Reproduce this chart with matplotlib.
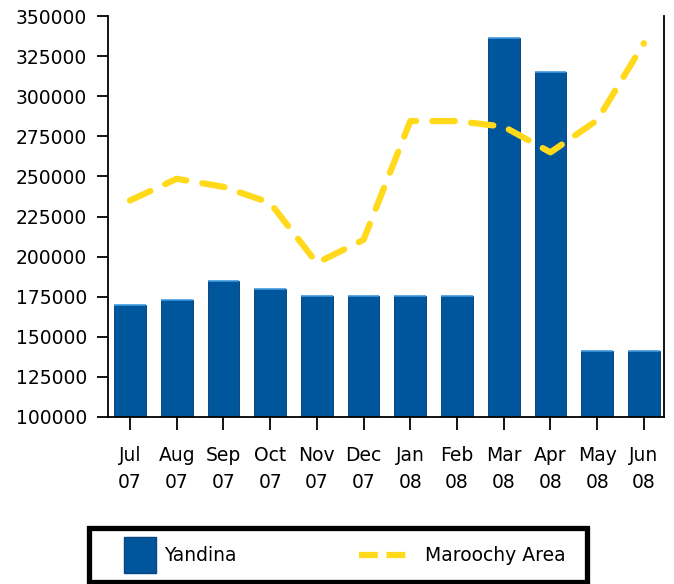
import numpy as np
import matplotlib.pyplot as plt
from matplotlib.patches import Patch, Rectangle
from matplotlib.lines import Line2D
from matplotlib.legend_handler import HandlerPatch, HandlerLine2D

plt.rcParams["font.family"] = ["DejaVu Sans"]

# ── Daten ────────────────────────────────────────────────────────────────────
months = ["Jul\n07", "Aug\n07", "Sep\n07", "Oct\n07", "Nov\n07", "Dec\n07",
          "Jan\n08", "Feb\n08", "Mar\n08", "Apr\n08", "May\n08", "Jun\n08"]
yandina = [170000, 173000, 185000, 180000, 175500, 175500,
           175500, 175500, 336000, 315000, 141000, 141000]
maroochy = [235000, 248500, 243500, 233500, 196000, 210500,
            284500, 284500, 281000, 265000, 285000, 333000]

blue = "#00569c"
yellow = "#ffd91a"
fs = 13.5
bw = 0.68

fig = plt.figure(figsize=(6.74, 5.84), dpi=100)
ax = fig.add_axes([108 / 674, 1 - 417 / 584, (664 - 108) / 674, (417 - 16) / 584])

x = np.arange(len(months))
ax.bar(x, [v - 100000 for v in yandina], bottom=100000, width=bw,
       color=blue, edgecolor="#0b4680", linewidth=0.7, zorder=2)
# heller Rand oben auf den Balken
ax.hlines(yandina, x - bw / 2, x + bw / 2, color="#3d9ae0", lw=1.2, zorder=2.5)
ax.plot(x, maroochy, color=yellow, lw=4.5, dashes=(3.6, 2.6),
        solid_capstyle="round", dash_capstyle="round", zorder=3)

ax.set_ylim(100000, 350000)
ax.set_xlim(-0.47, 11.43)
ax.set_yticks(np.arange(100000, 350001, 25000))
ax.set_yticklabels([str(v) for v in range(100000, 350001, 25000)], fontsize=fs)
ax.set_xticks(x)
ax.set_xticklabels(months, fontsize=fs, linespacing=1.5)
ax.tick_params(axis="y", length=8, width=1.3, pad=7, direction="out")
ax.tick_params(axis="x", length=9, width=1.3, pad=12, direction="out")
ax.spines["top"].set_visible(False)
for s in ["left", "bottom", "right"]:
    ax.spines[s].set_linewidth(1.3)


# Legenden-Patch: schmal und rechts im Handle-Feld
def small_patch(legend, orig_handle, xdescent, ydescent, width, height, fontsize):
    return Rectangle((-xdescent + 0.49 * width, -ydescent), 0.61 * width, height)


class CenteredLine(HandlerLine2D):
    def create_artists(self, legend, orig_handle, xdescent, ydescent,
                       width, height, fontsize, trans):
        arts = super().create_artists(legend, orig_handle, xdescent, ydescent,
                                      width, height, fontsize, trans)
        for a in arts:
            a.set_ydata(np.full_like(a.get_xdata(), height / 2 - ydescent))
        return arts


handles = [Patch(facecolor=blue, edgecolor="#0b4680", label="Yandina"),
           Line2D([0], [0], color=yellow, lw=4.5, dashes=(3.0, 1.4), label="Maroochy Area  ")]
leg = fig.legend(handles=handles, loc="center", bbox_to_anchor=(338 / 674, 1 - 555 / 584),
                 ncol=2, fontsize=fs, frameon=True, fancybox=False, framealpha=1,
                 columnspacing=6.5, handlelength=2.8, handleheight=2.58,
                 handletextpad=0.75, borderpad=0.5,
                 handler_map={Patch: HandlerPatch(patch_func=small_patch),
                              Line2D: CenteredLine()})
leg.get_frame().set_edgecolor("black")
leg.get_frame().set_linewidth(3.8)

plt.savefig("out.png", dpi=100)
plt.close()
